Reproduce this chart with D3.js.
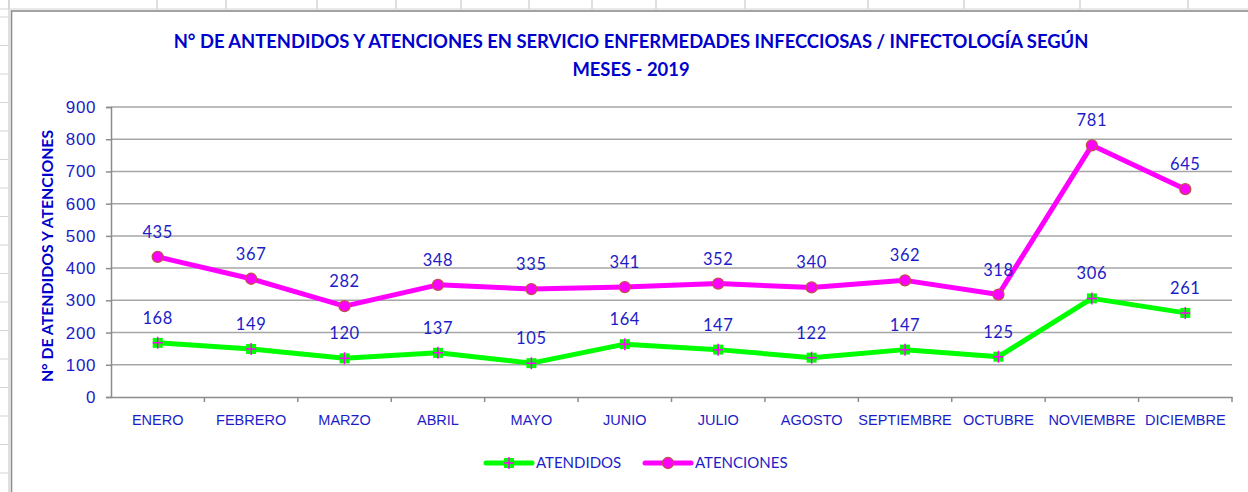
<!DOCTYPE html>
<html>
<head>
<meta charset="utf-8">
<script src="https://cdn.jsdelivr.net/npm/d3@7"></script>
<style>
  body { margin: 0; background: #fff; }
  svg { display: block; font-family: Lato, "Open Sans", sans-serif; }
</style>
</head>
<body>
<svg id="chart" width="1248" height="492"></svg>
<script>
const months = ['ENERO', 'FEBRERO', 'MARZO', 'ABRIL', 'MAYO', 'JUNIO', 'JULIO',
  'AGOSTO', 'SEPTIEMBRE', 'OCTUBRE', 'NOVIEMBRE', 'DICIEMBRE'];
const atendidos = [168, 149, 120, 137, 105, 164, 147, 122, 147, 125, 306, 261];
const atenciones = [435, 367, 282, 348, 335, 341, 352, 340, 362, 318, 781, 645];
const yTicks = [0, 100, 200, 300, 400, 500, 600, 700, 800, 900];

const blue = '#1c1cc8';
const svg = d3.select('#chart');

// spreadsheet cells behind the chart
const sheetCols = [9, 157, 226, 317, 396, 461, 529, 592, 656, 745, 868, 964, 1080, 1188];
const sheetRows = d3.range(17, 492, 28.5);
svg.append('g').selectAll('line').data(sheetCols).join('line')
  .attr('x1', d => d).attr('x2', d => d).attr('y1', 0).attr('y2', 9)
  .attr('stroke', '#d4d4d4').attr('stroke-width', 1.5);
svg.append('line').attr('x1', 9).attr('x2', 9).attr('y1', 0).attr('y2', 492)
  .attr('stroke', '#d4d4d4').attr('stroke-width', 1.5);
svg.append('line').attr('x1', 0).attr('x2', 1248).attr('y1', 9).attr('y2', 9)
  .attr('stroke', '#d4d4d4').attr('stroke-width', 1);
svg.append('g').selectAll('line').data(sheetRows).join('line')
  .attr('x1', 0).attr('x2', 9).attr('y1', d => d).attr('y2', d => d)
  .attr('stroke', '#d4d4d4');

// chart frame
svg.append('rect').attr('x', 11.5).attr('y', 11).attr('width', 1300).attr('height', 600)
  .attr('fill', '#fff').attr('stroke', '#8c8c8c').attr('stroke-width', 1.6);

const margin = { left: 111, right: 1232, top: 107, bottom: 397 };

const x = d3.scaleBand().domain(months).range([margin.left, margin.right]);
const y = d3.scaleLinear().domain([0, 900]).range([margin.bottom, margin.top]);

// gridlines
svg.append('g').selectAll('line').data(yTicks.filter(d => d > 0)).join('line')
  .attr('x1', margin.left).attr('x2', margin.right)
  .attr('y1', d => y(d)).attr('y2', d => y(d))
  .attr('stroke', '#a6a6a6').attr('stroke-width', 1.5);

// y axis
const yAxis = svg.append('g')
  .attr('transform', `translate(${margin.left},0)`)
  .call(d3.axisLeft(y).tickValues(yTicks).tickSize(5).tickPadding(10));
yAxis.select('.domain').attr('stroke', '#8c8c8c').attr('stroke-width', 1.5);
yAxis.selectAll('.tick line').attr('stroke', '#8c8c8c').attr('stroke-width', 1.5);
yAxis.selectAll('.tick text').attr('fill', blue).style('font-size', '17px')
  .style('letter-spacing', '0.6px');

// x axis, ticks at category boundaries
const xAxis = svg.append('g')
  .attr('transform', `translate(0,${margin.bottom})`)
  .call(d3.axisBottom(x).tickSize(0).tickPadding(18));
xAxis.select('.domain').attr('stroke', '#8c8c8c').attr('stroke-width', 1.5);
xAxis.selectAll('.tick text').attr('fill', blue).style('font-size', '14.5px');
svg.append('g').selectAll('line').data(months).join('line')
  .attr('x1', d => x(d) + x.bandwidth()).attr('x2', d => x(d) + x.bandwidth())
  .attr('y1', margin.bottom).attr('y2', margin.bottom + 5)
  .attr('stroke', '#8c8c8c').attr('stroke-width', 1.5);

const cx = d => x(d) + x.bandwidth() / 2;
const line = d3.line().x((d, i) => cx(months[i])).y(d => y(d));

const series = [
  { name: 'ATENDIDOS', values: atendidos, color: '#00ff00', marker: 'square' },
  { name: 'ATENCIONES', values: atenciones, color: '#ff00ff', marker: 'circle' }
];

function drawMarker(g, s, px, py) {
  if (s.marker === 'square') {
    g.append('rect').attr('x', px - 5).attr('y', py - 5).attr('width', 10).attr('height', 10)
      .attr('fill', '#00ff00');
    g.append('path').attr('d', `M${px - 5},${py}H${px + 5}M${px},${py - 6}V${py + 6}`)
      .attr('stroke', '#ff00ff').attr('stroke-width', 1.5);
  } else {
    g.append('circle').attr('cx', px).attr('cy', py).attr('r', 5.5)
      .attr('fill', '#ff00ff').attr('stroke', '#c0504d').attr('stroke-width', 1.3);
  }
}

series.forEach(s => {
  svg.append('path').datum(s.values)
    .attr('d', line).attr('fill', 'none')
    .attr('stroke', s.color).attr('stroke-width', 5).attr('stroke-linejoin', 'round');
  const g = svg.append('g');
  s.values.forEach((v, i) => drawMarker(g, s, cx(months[i]), y(v)));
  svg.append('g').selectAll('text').data(s.values).join('text')
    .attr('x', (d, i) => cx(months[i])).attr('y', d => y(d) - 19)
    .attr('text-anchor', 'middle').attr('fill', blue).style('font-size', '16.5px')
    .style('letter-spacing', '0.6px')
    .text(d => d);
});

// titles
const title = svg.append('text').attr('text-anchor', 'middle').attr('fill', '#0000cc')
  .style('font-weight', 'bold').style('font-size', '18.4px');
title.append('tspan').attr('x', 631).attr('y', 48)
  .text('N° DE ANTENDIDOS Y ATENCIONES EN SERVICIO ENFERMEDADES INFECCIOSAS / INFECTOLOGÍA SEGÚN');
title.append('tspan').attr('x', 631).attr('y', 76).text('MESES - 2019');

svg.append('text')
  .attr('transform', `translate(53,${(margin.top + margin.bottom) / 2 + 4}) rotate(-90)`)
  .attr('text-anchor', 'middle').attr('fill', '#0000cc')
  .style('font-weight', 'bold').style('font-size', '15.8px')
  .text('N° DE ATENDIDOS Y ATENCIONES');

// legend
const legend = svg.append('g').attr('transform', 'translate(0,463)');
const legendX = [486, 645];
series.forEach((s, i) => {
  const lx = legendX[i];
  legend.append('line').attr('x1', lx).attr('x2', lx + 46).attr('y1', 0).attr('y2', 0)
    .attr('stroke', s.color).attr('stroke-width', 5).attr('stroke-linecap', 'round');
  drawMarker(legend, s, lx + 23, 0);
  legend.append('text').attr('x', lx + 50).attr('y', 5).attr('fill', blue)
    .style('font-size', '15px').text(s.name);
});
</script>
</body>
</html>
